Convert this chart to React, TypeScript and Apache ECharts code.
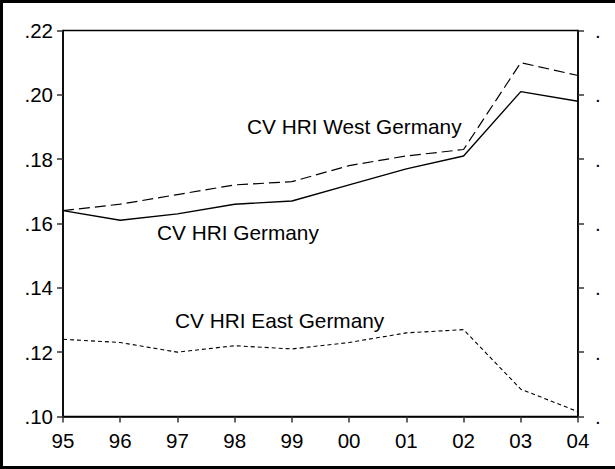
import React, { useEffect, useRef } from "react";
import * as echarts from "echarts";

const years = ["95", "96", "97", "98", "99", "00", "01", "02", "03", "04"];
const cvGermany = [0.164, 0.161, 0.163, 0.166, 0.167, 0.172, 0.177, 0.181, 0.201, 0.198];
const cvWest = [0.164, 0.166, 0.169, 0.172, 0.173, 0.178, 0.181, 0.183, 0.21, 0.206];
const cvEast = [0.124, 0.123, 0.12, 0.122, 0.121, 0.123, 0.126, 0.127, 0.1085, 0.1015];
const labelWest = "CV HRI West Germany";
const labelGermany = "CV HRI Germany";
const labelEast = "CV HRI East Germany";

const FONT = "'Liberation Sans', Arial, sans-serif";

export default function App() {
  const ref = useRef<HTMLDivElement>(null);
  useEffect(() => {
    if (!ref.current) return;
    const chart = echarts.init(ref.current, null, { renderer: "svg" });
    const axisLine = { show: true, lineStyle: { color: "#000", width: 1.5 } };
    const axisTick = { show: true, length: 6, lineStyle: { color: "#333", width: 1.5 } };
    chart.setOption({
      animation: false,
      backgroundColor: "#fff",
      grid: {
        left: 63,
        right: 37,
        top: 30.5,
        bottom: 52.5,
        show: true,
        borderColor: "#000",
        borderWidth: 1.5,
      },
      xAxis: {
        type: "category",
        data: years,
        boundaryGap: false,
        axisLine,
        axisTick: { ...axisTick, alignWithLabel: true },
        axisLabel: { color: "#000", fontSize: 20.5, fontFamily: FONT, margin: 13 },
        splitLine: { show: false },
      },
      yAxis: [
        {
          type: "value",
          min: 0.1,
          max: 0.22,
          interval: 0.02,
          position: "left",
          axisLine,
          axisTick,
          splitLine: { show: false },
          axisLabel: {
            color: "#000",
            fontSize: 20.5,
            fontFamily: FONT,
            margin: 10,
            formatter: (v: number) => v.toFixed(2).replace(/^0/, ""),
          },
        },
        {
          type: "value",
          min: 0.1,
          max: 0.22,
          interval: 0.02,
          position: "right",
          axisLine,
          axisTick,
          splitLine: { show: false },
          axisLabel: {
            color: "#000",
            fontSize: 20.5,
            fontFamily: FONT,
            margin: 17,
            align: "left",
            formatter: () => ".",
          },
        },
      ],
      series: [
        {
          name: labelGermany,
          type: "line",
          data: cvGermany,
          symbol: "none",
          lineStyle: { color: "#000", width: 1.4, type: "solid" },
        },
        {
          name: labelWest,
          type: "line",
          data: cvWest,
          symbol: "none",
          lineStyle: { color: "#000", width: 1.2, type: [11, 5] },
        },
        {
          name: labelEast,
          type: "line",
          data: cvEast,
          symbol: "none",
          lineStyle: { color: "#000", width: 1.1, type: [4, 3] },
        },
      ],
      graphic: [
        {
          type: "rect",
          shape: { x: 1.5, y: 1.5, width: 640, height: 466 },
          style: { fill: "none", stroke: "#000", lineWidth: 3 },
          silent: true,
        },
        {
          type: "text",
          x: 247,
          y: 116,
          style: { text: labelWest, fontSize: 20.8, fontFamily: FONT, fill: "#000" },
        },
        {
          type: "text",
          x: 157,
          y: 222,
          style: { text: labelGermany, fontSize: 20.8, fontFamily: FONT, fill: "#000" },
        },
        {
          type: "text",
          x: 175,
          y: 310,
          style: { text: labelEast, fontSize: 20.8, fontFamily: FONT, fill: "#000" },
        },
      ],
    });
    return () => chart.dispose();
  }, []);
  return (
    <div
      ref={ref}
      style={{ position: "fixed", left: 0, top: 0, width: 615, height: 469, background: "#fff" }}
    />
  );
}
